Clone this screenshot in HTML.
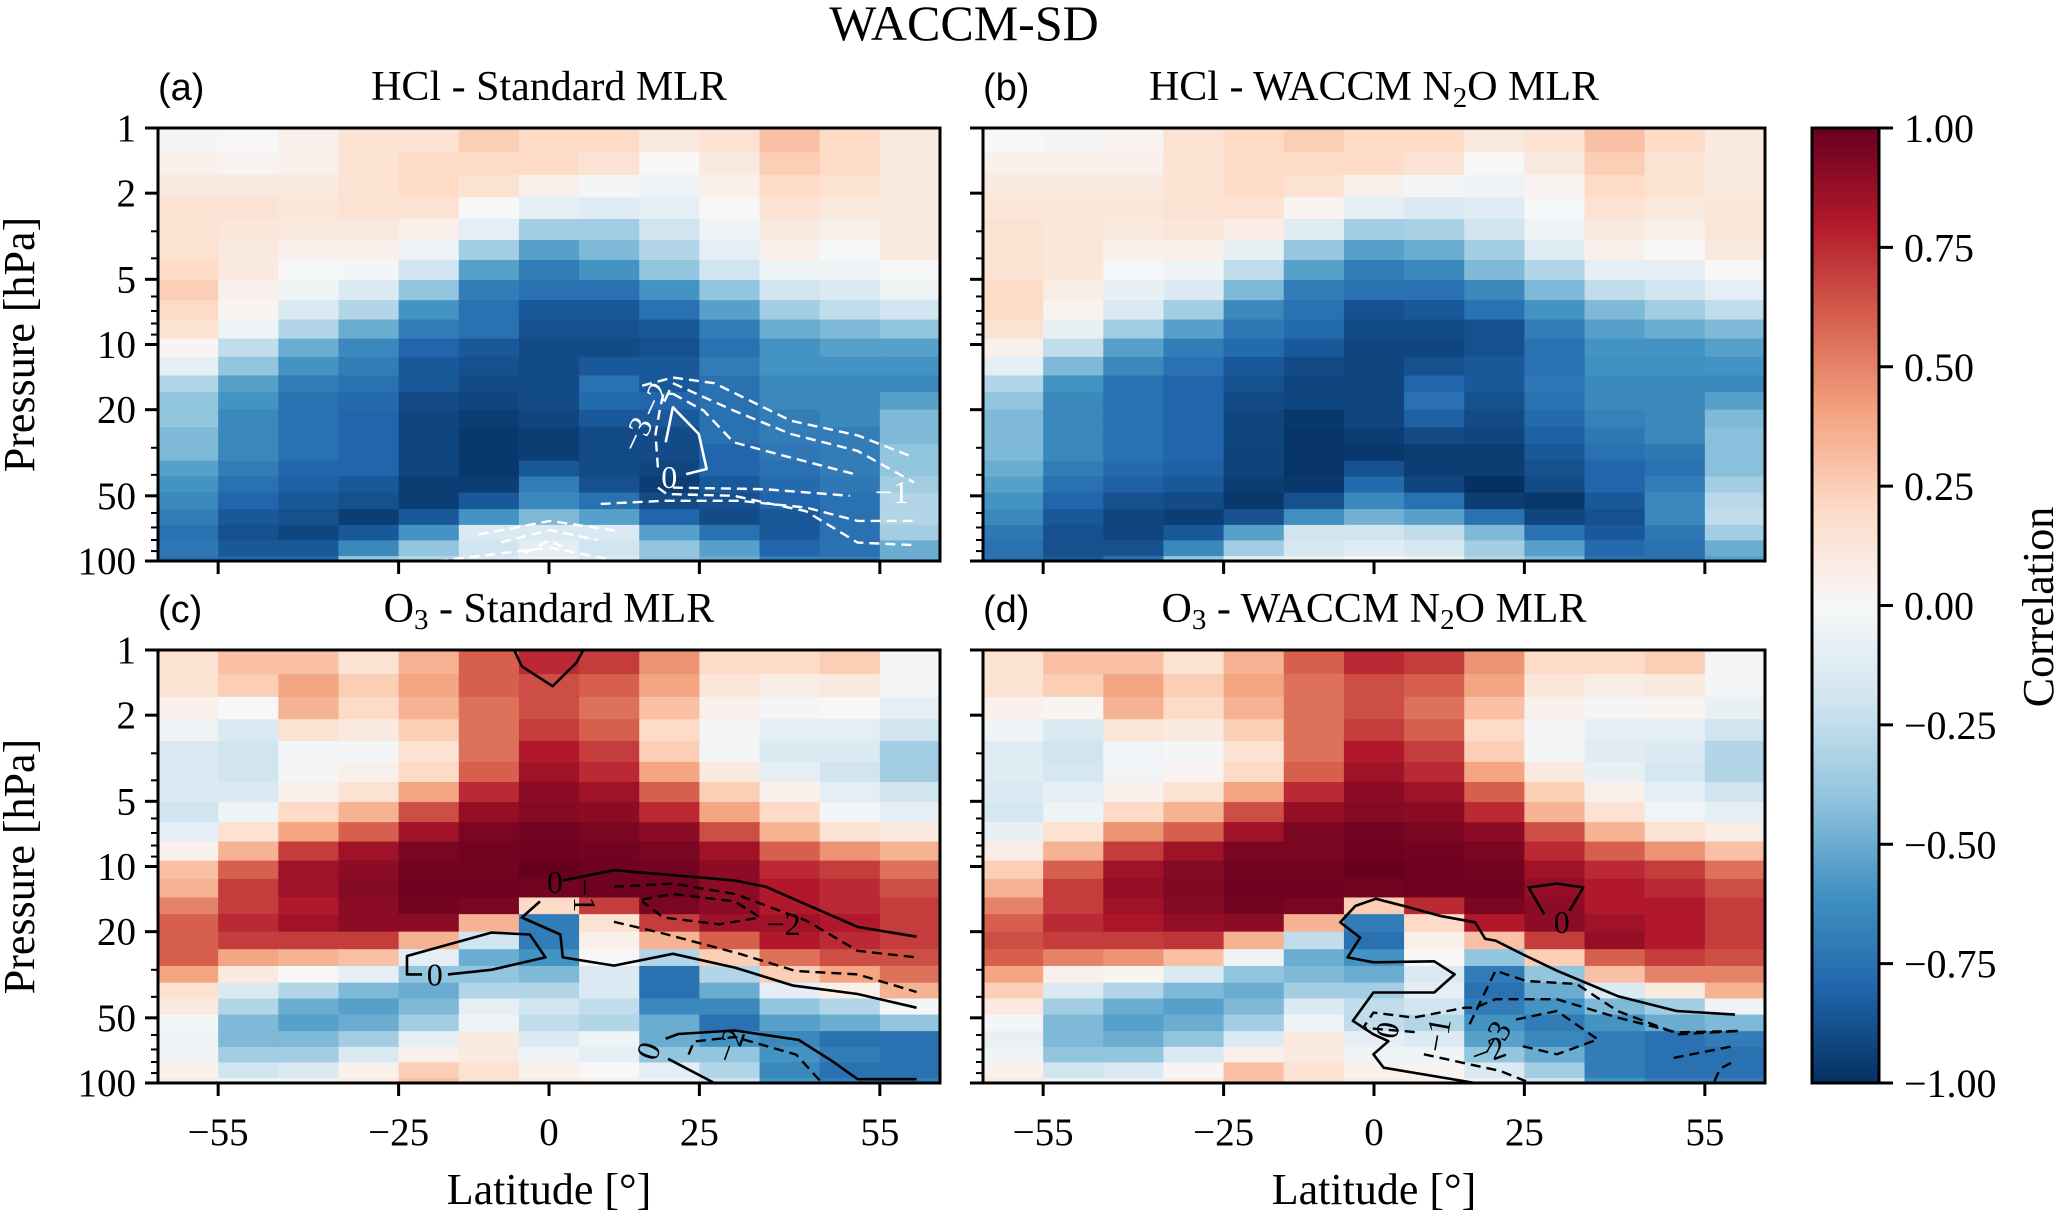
<!DOCTYPE html>
<html><head><meta charset="utf-8"><title>WACCM-SD</title>
<style>
html,body{margin:0;padding:0;background:#fff;}
svg{display:block;font-family:"Liberation Serif","DejaVu Serif",serif;}
.sans{font-family:"Liberation Sans","DejaVu Sans",sans-serif;}
</style></head>
<body>
<svg id="fig" width="2068" height="1215" viewBox="0 0 2068 1215" xmlns="http://www.w3.org/2000/svg">
<defs>
<linearGradient id="cbgrad" x1="0" y1="1" x2="0" y2="0">
<stop offset="0" stop-color="#053061"/><stop offset="0.1" stop-color="#2166ac"/><stop offset="0.2" stop-color="#4393c3"/><stop offset="0.3" stop-color="#92c5de"/><stop offset="0.4" stop-color="#d1e5f0"/><stop offset="0.5" stop-color="#f7f7f7"/><stop offset="0.6" stop-color="#fddbc7"/><stop offset="0.7" stop-color="#f4a582"/><stop offset="0.8" stop-color="#d6604d"/><stop offset="0.9" stop-color="#b2182b"/><stop offset="1" stop-color="#67001f"/>
</linearGradient>
</defs>
<text x="964" y="40" font-size="50" text-anchor="middle">WACCM-SD</text>
<g id="panels"></g>
<g>
<rect x="1812" y="128" width="67" height="955" fill="url(#cbgrad)" stroke="#000" stroke-width="3"/>
</g>
<g id="cbticks"></g>
<text x="0" y="0" font-size="44" text-anchor="middle" transform="translate(2053,607) rotate(-90)">Correlation</text>
</svg>
<script>
const NS="http://www.w3.org/2000/svg";
const latCenters=[-60,-50,-40,-30,-20,-10,0,10,20,30,40,50,60];
const pEdges=[1,1.292,1.646,2.088,2.631,3.291,4.07,5.04,6.24,7.67,9.39,11.4,13.9,16.6,20.0,24.1,28.8,34.4,40.7,48.3,57.6,68.1,80.3,94.9,100];
const xTicks=[-55,-25,0,25,55];
const yTicks=[1,2,5,10,20,50,100];
const yMinor=[3,4,6,7,8,9,30,40,60,70,80,90];
const cbTicks=[1,0.75,0.5,0.25,0,-0.25,-0.5,-0.75,-1];
const cbLabels=["1.00","0.75","0.50","0.25","0.00","\u22120.25","\u22120.50","\u22120.75","\u22121.00"];

const corrA=[
[-0.02,0,0.05,0.15,0.15,0.25,0.2,0.2,0.1,0.15,0.3,0.2,0.1],
[0.05,0.03,0.05,0.15,0.2,0.2,0.2,0.15,0,0.1,0.25,0.2,0.1],
[0.1,0.1,0.1,0.15,0.2,0.15,0.05,-0.02,-0.05,0.05,0.2,0.15,0.1],
[0.15,0.15,0.12,0.15,0.15,0,-0.1,-0.12,-0.1,0,0.15,0.1,0.1],
[0.15,0.12,0.1,0.1,0.05,-0.1,-0.35,-0.35,-0.2,-0.05,0.1,0.05,0.1],
[0.15,0.1,0.05,0.05,-0.05,-0.35,-0.55,-0.45,-0.3,-0.1,0.05,0,0.1],
[0.2,0.1,0,-0.02,-0.2,-0.55,-0.7,-0.6,-0.4,-0.2,-0.05,-0.05,0],
[0.25,0.05,-0.05,-0.15,-0.4,-0.7,-0.75,-0.75,-0.6,-0.4,-0.2,-0.15,-0.05],
[0.2,0.02,-0.15,-0.3,-0.6,-0.75,-0.85,-0.85,-0.75,-0.55,-0.35,-0.25,-0.2],
[0.15,-0.05,-0.3,-0.5,-0.7,-0.75,-0.88,-0.88,-0.85,-0.7,-0.5,-0.45,-0.4],
[0.02,-0.25,-0.5,-0.65,-0.8,-0.85,-0.9,-0.9,-0.88,-0.75,-0.6,-0.55,-0.55],
[-0.1,-0.4,-0.6,-0.7,-0.85,-0.88,-0.9,-0.85,-0.85,-0.7,-0.6,-0.6,-0.6],
[-0.3,-0.55,-0.7,-0.75,-0.85,-0.9,-0.9,-0.75,-0.85,-0.75,-0.65,-0.65,-0.65],
[-0.4,-0.6,-0.75,-0.78,-0.9,-0.92,-0.9,-0.78,-0.8,-0.75,-0.65,-0.65,-0.55],
[-0.4,-0.65,-0.75,-0.8,-0.92,-0.95,-0.92,-0.85,-0.85,-0.75,-0.7,-0.65,-0.45],
[-0.45,-0.65,-0.75,-0.8,-0.92,-0.97,-0.95,-0.9,-0.9,-0.75,-0.7,-0.7,-0.45],
[-0.45,-0.65,-0.75,-0.8,-0.92,-0.97,-0.95,-0.9,-0.9,-0.8,-0.72,-0.7,-0.4],
[-0.55,-0.7,-0.8,-0.8,-0.92,-0.97,-0.85,-0.9,-0.92,-0.8,-0.75,-0.7,-0.4],
[-0.6,-0.75,-0.82,-0.85,-0.95,-0.95,-0.7,-0.88,-0.95,-0.85,-0.78,-0.72,-0.35],
[-0.65,-0.8,-0.85,-0.88,-0.95,-0.85,-0.65,-0.75,-0.9,-0.88,-0.8,-0.75,-0.3],
[-0.7,-0.85,-0.88,-0.95,-0.85,-0.6,-0.45,-0.55,-0.8,-0.9,-0.85,-0.75,-0.3],
[-0.75,-0.88,-0.92,-0.85,-0.6,-0.15,-0.15,-0.15,-0.55,-0.75,-0.85,-0.75,-0.35],
[-0.72,-0.85,-0.85,-0.65,-0.4,-0.2,-0.1,-0.2,-0.4,-0.55,-0.8,-0.75,-0.5],
[-0.75,-0.8,-0.8,-0.4,-0.3,-0.15,-0.05,-0.15,-0.4,-0.5,-0.7,-0.7,-0.5]];

const corrB=[
[0,-0.02,0.03,0.15,0.2,0.25,0.2,0.2,0.1,0.15,0.3,0.2,0.1],
[0.05,0.05,0.05,0.15,0.2,0.2,0.2,0.15,0,0.1,0.25,0.15,0.1],
[0.1,0.1,0.1,0.15,0.2,0.15,0.05,-0.02,-0.05,0.03,0.2,0.15,0.1],
[0.12,0.12,0.12,0.15,0.15,0.03,-0.1,-0.15,-0.12,-0.01,0.15,0.1,0.12],
[0.15,0.12,0.1,0.12,0.08,-0.12,-0.35,-0.33,-0.2,-0.05,0.1,0.05,0.12],
[0.15,0.12,0.05,0.05,-0.08,-0.38,-0.55,-0.5,-0.35,-0.12,0.05,0,0.1],
[0.15,0.12,-0.01,-0.05,-0.25,-0.55,-0.7,-0.65,-0.45,-0.3,-0.1,-0.1,0],
[0.2,0.08,-0.08,-0.15,-0.45,-0.7,-0.75,-0.75,-0.65,-0.45,-0.25,-0.2,-0.1],
[0.2,0.03,-0.15,-0.35,-0.65,-0.75,-0.88,-0.85,-0.75,-0.6,-0.45,-0.35,-0.25],
[0.15,-0.08,-0.35,-0.55,-0.72,-0.78,-0.9,-0.9,-0.88,-0.7,-0.55,-0.5,-0.45],
[0.05,-0.25,-0.55,-0.7,-0.78,-0.85,-0.92,-0.92,-0.88,-0.75,-0.6,-0.6,-0.55],
[-0.1,-0.45,-0.65,-0.75,-0.85,-0.9,-0.92,-0.88,-0.85,-0.75,-0.62,-0.62,-0.6],
[-0.3,-0.6,-0.75,-0.8,-0.88,-0.92,-0.92,-0.8,-0.85,-0.72,-0.65,-0.65,-0.65],
[-0.4,-0.65,-0.75,-0.8,-0.9,-0.92,-0.92,-0.75,-0.88,-0.75,-0.65,-0.65,-0.55],
[-0.45,-0.65,-0.75,-0.8,-0.92,-0.97,-0.92,-0.82,-0.9,-0.78,-0.68,-0.65,-0.45],
[-0.45,-0.65,-0.75,-0.8,-0.92,-0.98,-0.95,-0.9,-0.92,-0.82,-0.72,-0.65,-0.42],
[-0.45,-0.65,-0.75,-0.8,-0.93,-0.98,-0.97,-0.95,-0.95,-0.85,-0.75,-0.72,-0.42],
[-0.5,-0.7,-0.78,-0.82,-0.93,-0.98,-0.88,-0.95,-0.95,-0.88,-0.8,-0.75,-0.42],
[-0.55,-0.75,-0.82,-0.85,-0.95,-0.97,-0.78,-0.92,-1.0,-0.9,-0.8,-0.7,-0.35],
[-0.6,-0.8,-0.88,-0.9,-0.97,-0.88,-0.65,-0.75,-0.95,-0.97,-0.85,-0.65,-0.28],
[-0.65,-0.85,-0.92,-0.95,-0.88,-0.62,-0.48,-0.55,-0.75,-0.92,-0.88,-0.65,-0.25],
[-0.72,-0.88,-0.92,-0.85,-0.55,-0.2,-0.2,-0.25,-0.45,-0.75,-0.85,-0.72,-0.35],
[-0.75,-0.88,-0.88,-0.65,-0.35,-0.18,-0.12,-0.18,-0.35,-0.55,-0.78,-0.75,-0.5],
[-0.75,-0.85,-0.75,-0.4,-0.1,-0.05,0,-0.05,-0.3,-0.45,-0.75,-0.75,-0.55]];

const corrC=[
[0.15,0.3,0.3,0.15,0.35,0.6,0.75,0.7,0.45,0.2,0.2,0.25,-0.02],
[0.15,0.25,0.4,0.25,0.4,0.6,0.65,0.6,0.4,0.12,0.08,0.1,-0.02],
[0.05,0,0.35,0.2,0.35,0.55,0.65,0.55,0.3,0.05,-0.02,0,-0.1],
[-0.05,-0.15,0.15,0.1,0.25,0.55,0.7,0.6,0.2,-0.02,-0.1,-0.1,-0.2],
[-0.15,-0.2,-0.02,-0.02,0.15,0.55,0.8,0.7,0.25,-0.02,-0.15,-0.15,-0.35],
[-0.15,-0.2,-0.02,0.05,0.2,0.6,0.85,0.75,0.4,0.1,-0.1,-0.2,-0.35],
[-0.15,-0.15,0.05,0.15,0.4,0.75,0.9,0.85,0.6,0.25,0.05,-0.1,-0.2],
[-0.2,-0.05,0.2,0.35,0.65,0.88,0.92,0.9,0.75,0.4,0.2,-0.02,-0.1],
[-0.1,0.15,0.4,0.6,0.85,0.95,0.97,0.95,0.9,0.65,0.35,0.15,0.1],
[0.05,0.35,0.7,0.85,0.95,0.97,0.98,0.97,0.95,0.85,0.6,0.45,0.35],
[0.3,0.6,0.85,0.9,0.97,0.97,1.0,0.98,0.97,0.9,0.75,0.7,0.55],
[0.35,0.7,0.85,0.92,0.98,0.98,0.97,0.98,0.98,0.9,0.8,0.75,0.65],
[0.5,0.7,0.8,0.9,0.97,0.95,0.2,0.7,0.95,0.9,0.8,0.75,0.7],
[0.6,0.75,0.85,0.9,0.9,0.35,-0.7,0.15,0.7,0.85,0.85,0.8,0.7],
[0.6,0.7,0.7,0.7,0.35,-0.2,-0.7,0.05,0.35,0.6,0.8,0.75,0.7],
[0.6,0.4,0.35,0.3,-0.1,-0.5,-0.6,0,-0.3,0.25,0.55,0.65,0.65],
[0.4,0.1,0,-0.1,-0.4,-0.4,-0.45,-0.15,-0.75,-0.3,0.25,0.4,0.55],
[0.15,-0.15,-0.3,-0.45,-0.5,-0.3,-0.3,-0.15,-0.75,-0.5,-0.1,0.05,0.35],
[0.1,-0.3,-0.5,-0.55,-0.45,-0.1,-0.2,-0.25,-0.65,-0.65,-0.4,-0.3,-0.02],
[-0.02,-0.45,-0.55,-0.5,-0.35,-0.05,-0.25,-0.3,-0.5,-0.75,-0.55,-0.5,-0.4],
[-0.05,-0.45,-0.45,-0.35,-0.1,0.1,-0.15,-0.05,-0.5,-0.6,-0.65,-0.75,-0.75],
[-0.05,-0.35,-0.35,-0.15,0.05,0.1,-0.05,-0.1,-0.4,-0.4,-0.6,-0.7,-0.75],
[0.05,-0.2,-0.15,0.05,0.25,0.15,0.05,0,-0.1,-0.3,-0.65,-0.75,-0.75],
[0.1,-0.05,-0.05,0.1,0.3,0.15,0.1,0.05,-0.05,-0.2,-0.6,-0.7,-0.7]];

const corrD=[
[0.15,0.3,0.3,0.15,0.35,0.6,0.75,0.7,0.45,0.2,0.2,0.25,-0.02],
[0.15,0.25,0.4,0.25,0.4,0.55,0.65,0.6,0.4,0.12,0.08,0.1,-0.02],
[0.05,0.02,0.35,0.2,0.35,0.55,0.65,0.55,0.3,0.05,-0.02,0.03,-0.08],
[-0.05,-0.15,0.12,0.1,0.25,0.55,0.7,0.6,0.2,-0.02,-0.1,-0.1,-0.2],
[-0.12,-0.2,-0.03,-0.02,0.15,0.55,0.8,0.7,0.25,-0.02,-0.12,-0.15,-0.3],
[-0.12,-0.18,-0.03,0.03,0.2,0.6,0.85,0.75,0.4,0.1,-0.08,-0.18,-0.3],
[-0.15,-0.1,0.05,0.15,0.4,0.75,0.9,0.85,0.6,0.25,0.05,-0.1,-0.2],
[-0.18,-0.05,0.2,0.35,0.65,0.88,0.92,0.9,0.75,0.35,0.15,-0.03,-0.1],
[-0.08,0.15,0.45,0.6,0.85,0.95,0.97,0.95,0.9,0.65,0.35,0.15,0.08],
[0.08,0.35,0.7,0.85,0.95,0.95,0.98,0.97,0.95,0.75,0.6,0.45,0.3],
[0.25,0.6,0.85,0.92,0.97,0.97,1.0,0.98,0.97,0.85,0.75,0.7,0.55],
[0.35,0.7,0.88,0.93,0.98,0.98,0.97,0.98,0.98,0.88,0.8,0.75,0.65],
[0.5,0.7,0.85,0.92,0.97,0.95,0.25,0.75,0.95,0.9,0.8,0.8,0.7],
[0.6,0.75,0.82,0.88,0.9,0.35,-0.7,0.2,0.8,0.9,0.85,0.8,0.7],
[0.65,0.7,0.7,0.72,0.35,-0.25,-0.75,0.05,0.3,0.7,0.88,0.8,0.7],
[0.6,0.5,0.45,0.3,-0.05,-0.5,-0.6,0,-0.4,0.25,0.6,0.7,0.65],
[0.4,0.05,0.02,-0.15,-0.4,-0.45,-0.5,-0.15,-0.7,-0.4,0.3,0.5,0.5],
[0.25,-0.15,-0.3,-0.45,-0.5,-0.35,-0.35,-0.1,-0.75,-0.5,-0.15,0.1,0.35],
[0.1,-0.35,-0.5,-0.55,-0.45,-0.15,-0.25,-0.2,-0.7,-0.6,-0.45,-0.35,-0.05],
[-0.02,-0.45,-0.55,-0.5,-0.35,-0.05,-0.25,-0.3,-0.6,-0.7,-0.6,-0.5,-0.45],
[-0.08,-0.45,-0.5,-0.4,-0.15,0.1,-0.1,-0.15,-0.55,-0.65,-0.7,-0.75,-0.7],
[-0.05,-0.4,-0.4,-0.15,0.05,0.1,-0.05,-0.05,-0.4,-0.5,-0.7,-0.75,-0.75],
[0.05,-0.2,-0.15,0.02,0.3,0.15,0.05,0.02,-0.15,-0.35,-0.7,-0.75,-0.75],
[0.1,-0.05,-0.05,0.1,0.3,0.15,0.1,0.05,-0.05,-0.2,-0.6,-0.7,-0.7]];

const contA_solid=[[[19.4,28.3],[20.6,19.5],[24.9,25.9],[26.2,37.6],[22.8,39.7]]];
const contA_dash=[
[[15.5,15.5],[20.6,14.2],[27.5,15.1],[40.2,22.5],[51.3,26.3],[60.7,33.3]],
[[20.6,15.1],[30.7,20.2],[40.2,25.9],[51.3,31.0],[60.7,43.4]],
[[20.6,16.9],[25.7,20.2],[30.7,28.3],[40.2,33.3],[50.8,39.7]],
[[18.1,37],[17.7,25.9],[18.5,19.5],[19,16.9],[20.6,16.9]],
[[8.6,54.5],[19,52.7],[31.7,52.7],[42.7,56.6],[51.3,65.3],[60.7,65.3]],
[[18.1,45.8],[19.6,49.1],[30.7,50],[42.7,58.9],[51.3,82.2],[60.7,84.4]],
[[20.6,45.8],[35.9,46.6],[50,50]],
[[-11.7,75.4],[0.2,65.3],[11.3,72.5]],
[[-18.5,100],[0.2,86.6],[11.3,100]],
[[-8,82],[0.2,72],[8,80]],
[[-4,92],[0.2,80],[4,92]]];
const contC_solid=[
[[-5.8,1],[-4.5,1.19],[0.6,1.47],[4.5,1.15],[5.7,1]],
[[2.3,11.6],[10.8,10.4],[30.9,11.6],[36,12.4],[51.3,19.0],[61.1,21.1]],
[[-1.5,14.5],[-4.5,17.2],[1.9,20.6],[2.3,26.3],[10.8,28.7],[20.6,25.3],[30.9,29.3],[40.6,35.5],[51.3,38.8],[61.1,44.9]],
[[-16.8,31.5],[-9.6,30.0],[-0.6,26.3],[-3.2,20.6],[-9.6,20.2],[-23.6,25.9],[-23.6,31.5],[-21.1,31.5]],
[[19.4,62.4],[21.5,59.4],[30.9,57.2],[41.5,63.2],[47.1,79.3],[51.3,96],[61.1,96]],
[[19.8,77.3],[27.5,100]]];
const contC_dash=[
[[10.8,12.4],[20.6,12],[30.9,13.4],[42.8,17.8],[51.3,24.5],[61.1,26.3]],
[[15.5,14.2],[20.6,13.4],[30.9,14.5],[35.1,17.2],[28.3,18.5],[19,17.2],[15.5,14.5]],
[[10.8,18],[19,20.4],[31.7,25.3],[41.0,30.4],[51.3,31.5],[61.1,38.0]],
[[23.2,73.9],[24.1,64.3],[30.9,61.3],[41.1,73.9],[45.4,100]]];
const contD_solid=[
[[28.3,16.6],[25.7,12.5],[30.4,12],[34.8,12.5],[32.5,16]],
[[60,48.3],[50.3,46.5],[40.5,39.7],[30.4,30.3],[25.3,25.9],[20.2,22.0],[18.5,21.6],[16.8,18.1],[10.9,16.9],[4.9,15.2],[0.3,14.1],[-3.1,15.2],[-5.6,18.1],[-2.3,21.3],[-4.4,26.3],[-0.1,27.7],[10,27.4],[13.4,31.5],[10,38.2],[-0.1,38.2],[-3.5,51.6],[-0.1,59.6],[2.4,64.1],[-0.1,73.7],[1.6,85],[16.8,100]]];
const contD_dash=[
[[60.5,57.5],[50.3,58.4],[40.5,49.9],[30.4,41],[20.2,41],[16.8,44.9],[15.1,44.9],[6.6,49.9],[-0.1,47.3],[-1.8,55.6],[7.5,58.4]],
[[15.9,53.5],[20.2,30.3],[25.3,33.8],[33.7,34.9],[40.5,46.5],[50.7,59.6],[60.5,57.5]],
[[23.6,50.9],[30.4,46.5],[37.2,62.9],[30.4,73.7],[24.4,67.3]],
[[8.3,73.7],[21,88],[26,100]],
[[56.6,98],[57.5,86],[60,79]],
[[49.8,76.6],[60,67.3]]];
const labA=[[20,41,"0",0],[57,48,"\u22121",0],[17.5,18,"\u22122",-65],[14.5,26,"\u22123",-65]];
const labC=[[1,11.8,"0",0],[6,13.6,"\u22121",90],[39,18.4,"\u22122",0],[-19,31.5,"0",0],[16.5,71,"0",-70],[30,67,"\u22122",-70]];
const labD=[[31.2,18,"0",0],[2.2,57,"0",-80],[10.5,60,"\u22121",-80],[19,71,"\u22122",-20],[20,62,"\u22123",-60]];

const CM=["#053061","#2166ac","#4393c3","#92c5de","#d1e5f0","#f7f7f7","#fddbc7","#f4a582","#d6604d","#b2182b","#67001f"];
function hex(h){return [1,3,5].map(i=>parseInt(h.substr(i,2),16));}
const CMR=CM.map(hex);
function cmap(v){
  let t=(Math.max(-1,Math.min(1,v))+1)/2*10;
  let i=Math.min(9,Math.floor(t)),f=t-i;
  const a=CMR[i],b=CMR[i+1];
  return "rgb("+a.map((c,k)=>Math.round(c+(b[k]-c)*f)).join(",")+")";
}
const W=782,H=433;
function mk(tag,attrs,parent){const e=document.createElementNS(NS,tag);for(const k in attrs)e.setAttribute(k,attrs[k]);if(parent)parent.appendChild(e);return e;}
const root=document.getElementById("panels");

const panels=[
 {key:"a",x0:158,y0:128,data:corrA,solid:contA_solid,dash:contA_dash,labels:labA,col:"#fff",left:true,bottom:false,pre:"HCl - Standard MLR"},
 {key:"b",x0:983,y0:128,data:corrB,solid:[],dash:[],labels:[],col:"#fff",left:false,bottom:false,pre:"HCl - WACCM N2O MLR"},
 {key:"c",x0:158,y0:650,data:corrC,solid:contC_solid,dash:contC_dash,labels:labC,col:"#000",left:true,bottom:true,pre:"O3 - Standard MLR"},
 {key:"d",x0:983,y0:650,data:corrD,solid:contD_solid,dash:contD_dash,labels:labD,col:"#000",left:false,bottom:true,pre:"O3 - WACCM N2O MLR"}];

panels.forEach(P=>{
  const xs=lat=>P.x0+(lat+65)/130*W;
  const ys=p=>P.y0+Math.log10(p)/2*H;
  const g=mk("g",{},root);
  
  
  const hm=mk("g",{},g);
  
  
  P.data.forEach((row,ri)=>{
    row.forEach((v,ci)=>{
      const x1=xs(latCenters[ci]-5),x2=xs(latCenters[ci]+5);
      const y1=ys(pEdges[ri]),y2=ys(pEdges[ri+1]);
      const r=mk("rect",{x:x1.toFixed(2),y:y1.toFixed(2),width:(x2-x1+0.6).toFixed(2),height:(y2-y1+0.6).toFixed(2),fill:cmap(v)},hm);
      
      
    });
  });
  const toPath=pts=>pts.map((q,i)=>(i?"L":"M")+xs(q[0]).toFixed(1)+","+ys(q[1]).toFixed(1)).join(" ");
  P.solid.forEach(line=>{
    const e=mk("path",{d:toPath(line),fill:"none",stroke:P.col,"stroke-width":2.6,"stroke-linejoin":"round"},g);
    
    
  });
  P.dash.forEach(line=>{
    const e=mk("path",{d:toPath(line),fill:"none",stroke:P.col,"stroke-width":2.4,"stroke-dasharray":"10,6","stroke-linejoin":"round"},g);
    
    
  });
  P.labels.forEach(L=>{
    const x=xs(L[0]),y=ys(L[1]);
    const t=mk("text",{x:0,y:0,"font-size":32,fill:P.col,"text-anchor":"middle","dominant-baseline":"central",transform:"translate("+x.toFixed(1)+","+y.toFixed(1)+") rotate("+L[3]+")"},g);
    t.textContent=L[2];
    
    
  });
  const fr=mk("rect",{x:P.x0,y:P.y0,width:W,height:H,fill:"none",stroke:"#000","stroke-width":3},g);
  
  
  yTicks.forEach(p=>{
    const y=ys(p);
    const tk=mk("line",{x1:P.x0-13,x2:P.x0,y1:y,y2:y,stroke:"#000","stroke-width":3},g);
    
    
    if(P.left){
      const t=mk("text",{x:P.x0-22,y:y+13,"font-size":39,"text-anchor":"end"},g);
      t.textContent=String(p);
      
      
    }
  });
  yMinor.forEach(p=>{
    const y=ys(p);
    const tk=mk("line",{x1:P.x0-7,x2:P.x0,y1:y,y2:y,stroke:"#000","stroke-width":2},g);
    
    
  });
  xTicks.forEach(l=>{
    const x=xs(l);
    const tk=mk("line",{x1:x,x2:x,y1:P.y0+H,y2:P.y0+H+13,stroke:"#000","stroke-width":3},g);
    
    
    if(P.bottom){
      const t=mk("text",{x:x,y:P.y0+H+62,"font-size":39,"text-anchor":"middle"},g);
      t.textContent=(l<0?"\u2212":"")+Math.abs(l);
      
      
    }
  });
  const lt=mk("text",{x:P.x0,y:P.y0-28,"font-size":38,class:"sans"},g);
  lt.textContent="("+P.key+")";
  
  
  const tt=mk("text",{x:P.x0+W/2,y:P.y0-28,"font-size":42,"text-anchor":"middle"},g);
  
  
  const parts=P.pre.split(/(\d)/);
  parts.forEach(s=>{
    if(!s)return;
    const sp=mk("tspan",{},tt);
    if(/\d/.test(s)){sp.setAttribute("font-size","29");sp.setAttribute("dy","7");sp.textContent=s;}
    else{sp.textContent=s;if(tt.childNodes.length>1&&/\d/.test(tt.childNodes[tt.childNodes.length-2].textContent))sp.setAttribute("dy","-7");}
  });
  if(P.left){
    const yl=mk("text",{x:0,y:0,"font-size":44,"text-anchor":"middle",transform:"translate(34,"+(P.y0+H/2)+") rotate(-90)"},g);
    yl.textContent="Pressure [hPa]";
    
    
  }
  if(P.bottom){
    const xl=mk("text",{x:P.x0+W/2,y:1204,"font-size":44,"text-anchor":"middle"},g);
    xl.textContent="Latitude [\u00b0]";
    
    
  }
});
const cbg=document.getElementById("cbticks");
cbTicks.forEach((v,i)=>{
  const y=128+(1-v)/2*955;
  const tk=mk("line",{x1:1879,x2:1893,y1:y,y2:y,stroke:"#000","stroke-width":3},cbg);
  
  
  const t=mk("text",{x:1904,y:y+14,"font-size":40},cbg);
  t.textContent=cbLabels[i];
  
  
});
</script>
</body></html>
